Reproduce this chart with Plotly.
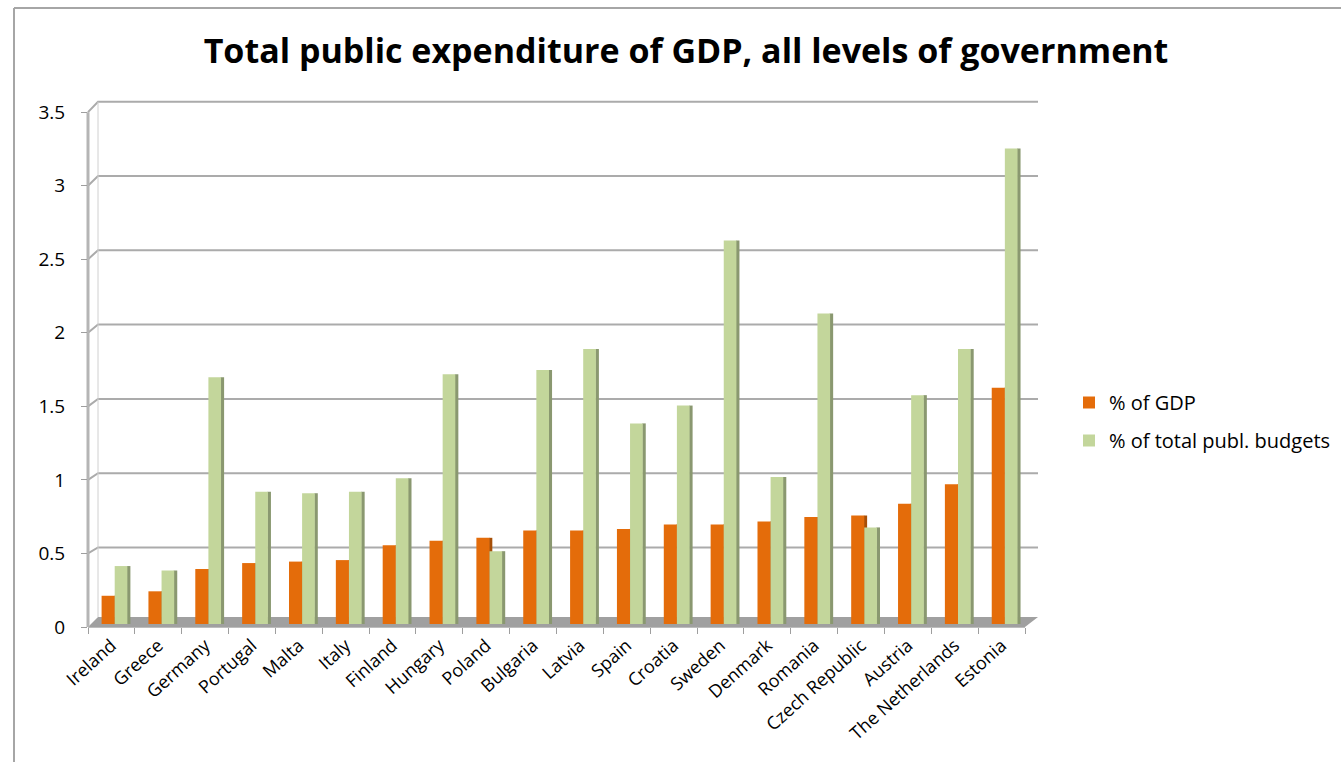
import plotly.graph_objects as go

# Countries (sorted by share of GDP) and the two expenditure measures
countries = ["Ireland", "Greece", "Germany", "Portugal", "Malta", "Italy", "Finland",
             "Hungary", "Poland", "Bulgaria", "Latvia", "Spain", "Croatia", "Sweden",
             "Denmark", "Romania", "Czech Republic", "Austria", "The Netherlands", "Estonia"]
pct_gdp = [0.19, 0.22, 0.37, 0.41, 0.42, 0.43, 0.53, 0.56, 0.58, 0.63,
           0.63, 0.64, 0.67, 0.67, 0.69, 0.72, 0.73, 0.81, 0.94, 1.59]
pct_budget = [0.39, 0.36, 1.66, 0.89, 0.88, 0.89, 0.98, 1.68, 0.49, 1.71,
              1.85, 1.35, 1.47, 2.58, 0.99, 2.09, 0.65, 1.54, 1.85, 3.20]
y_ticks = [0, 0.5, 1, 1.5, 2, 2.5, 3, 3.5]
series_names = ["% of GDP", "% of total publ. budgets"]

# Page geometry (pixels)
W, H = 1341, 762
L, R, T, B = 88, 1025, 100, 627          # front plot rectangle
DEPTH = 10                              # oblique depth offset of the back wall
PX_PER_UNIT_BACK = 148.6
BASE_BACK = 621.8
PX_PER_UNIT_FRONT = 147.1

# Main axis: bars; range chosen so 0 sits mid-depth on the floor
bar_base = 624.0
y_main = [(bar_base - B) / PX_PER_UNIT_BACK, (bar_base - T) / PX_PER_UNIT_BACK]
# Label axis: front edge of the left wall
y_front = [0.0, (B - T) / PX_PER_UNIT_FRONT]


def px(x):
    return (x - L) / (R - L)


def py(y):
    return (B - y) / (B - T)


ORANGE, ORANGE_SIDE = "#E46C0A", "#A64F08"
GREEN, GREEN_SIDE = "#C3D69B", "#8A9870"

fig = go.Figure()

# Bars: a darker side face drawn first, the front face on top
fig.add_trace(go.Bar(x=countries, y=pct_gdp, offset=0.06, width=0.07,
                     marker=dict(color=ORANGE_SIDE, line_width=0),
                     showlegend=False, hoverinfo="skip"))
fig.add_trace(go.Bar(x=countries, y=pct_gdp, name=series_names[0], offset=-0.21, width=0.28,
                     marker=dict(color=ORANGE, line_width=0), legendgroup="a"))
fig.add_trace(go.Bar(x=countries, y=pct_budget, offset=0.33, width=0.075,
                     marker=dict(color=GREEN_SIDE, line_width=0),
                     showlegend=False, hoverinfo="skip"))
fig.add_trace(go.Bar(x=countries, y=pct_budget, name=series_names[1], offset=0.07, width=0.27,
                     marker=dict(color=GREEN, line_width=0), legendgroup="b"))

# Invisible trace carrying the front-edge value labels
fig.add_trace(go.Scatter(x=[countries[0]], y=[0], yaxis="y2", mode="markers",
                         marker=dict(opacity=0), showlegend=False, hoverinfo="skip"))

shapes = []
# Floor slab
shapes.append(dict(type="path", xref="paper", yref="paper", layer="below",
                   path=f"M{px(L)},{py(B)} L{px(R)},{py(B)} L{px(R + 13)},{py(B - DEPTH)} "
                        f"L{px(L + DEPTH)},{py(B - DEPTH)} Z",
                   fillcolor="#A0A0A0", line=dict(width=0)))
# Back-wall gridlines and their left-wall diagonals
for v in y_ticks[1:]:
    yb = BASE_BACK - PX_PER_UNIT_BACK * v
    yf = B - PX_PER_UNIT_FRONT * v
    shapes.append(dict(type="path", xref="paper", yref="paper", layer="below",
                       path=f"M{px(L)},{py(yf)} L{px(L + DEPTH)},{py(yb)} L{px(1038)},{py(yb)}",
                       line=dict(color="#ABABAB", width=2)))
# Left wall edges
shapes.append(dict(type="line", xref="paper", yref="paper", layer="below",
                   x0=px(L), x1=px(L), y0=py(B), y1=py(B - PX_PER_UNIT_FRONT * 3.5),
                   line=dict(color="#B5B5B5", width=3)))
shapes.append(dict(type="line", xref="paper", yref="paper", layer="below",
                   x0=px(L + DEPTH), x1=px(L + DEPTH), y0=py(B - DEPTH),
                   y1=py(BASE_BACK - PX_PER_UNIT_BACK * 3.5),
                   line=dict(color="#D0D0D0", width=1)))
# Outer chart border (left and top)
shapes.append(dict(type="line", xref="paper", yref="paper", layer="below",
                   x0=px(14), x1=px(14), y0=py(8), y1=py(H + 5),
                   line=dict(color="#A6A6A6", width=2)))
shapes.append(dict(type="line", xref="paper", yref="paper", layer="below",
                   x0=px(14), x1=px(W + 5), y0=py(8), y1=py(8),
                   line=dict(color="#A6A6A6", width=2)))

FONT = "Open Sans"

fig.update_layout(
    width=W, height=H,
    margin=dict(l=L, r=W - R, t=T, b=H - B, pad=0, autoexpand=False),
    paper_bgcolor="white", plot_bgcolor="rgba(0,0,0,0)",
    barmode="overlay",
    title=dict(text="<b>Total public expenditure of GDP, all levels of government</b>",
               x=686 / W, xanchor="center", y=1 - 51 / H, yanchor="middle",
               font=dict(family=FONT, size=34, color="black")),
    font=dict(family=FONT, color="black"),
    xaxis=dict(type="category", range=[-0.5, len(countries) - 0.5],
               tickangle=-42, tickfont=dict(size=18), showgrid=False,
               showline=True, linecolor="#BDBDBD", linewidth=1,
               ticks="outside", tickson="boundaries", ticklen=6, tickcolor="#9E9E9E",
               fixedrange=True),
    yaxis=dict(range=y_main, showgrid=False, zeroline=False, showticklabels=False,
               showline=False, fixedrange=True),
    yaxis2=dict(range=y_front, overlaying="y", side="left", tickvals=y_ticks,
                ticktext=[f"{v:g}" for v in y_ticks],
                tickfont=dict(size=19), showgrid=False, zeroline=False, showline=False,
                ticks="outside", ticklen=6, tickcolor="#9E9E9E", ticklabelstandoff=12,
                fixedrange=True),
    legend=dict(x=px(1069), xanchor="left", y=py(383), yanchor="top",
                font=dict(size=20), traceorder="grouped", tracegroupgap=9,
                bgcolor="rgba(0,0,0,0)"),
    shapes=shapes,
    showlegend=True,
)

fig.write_html("out.html")
